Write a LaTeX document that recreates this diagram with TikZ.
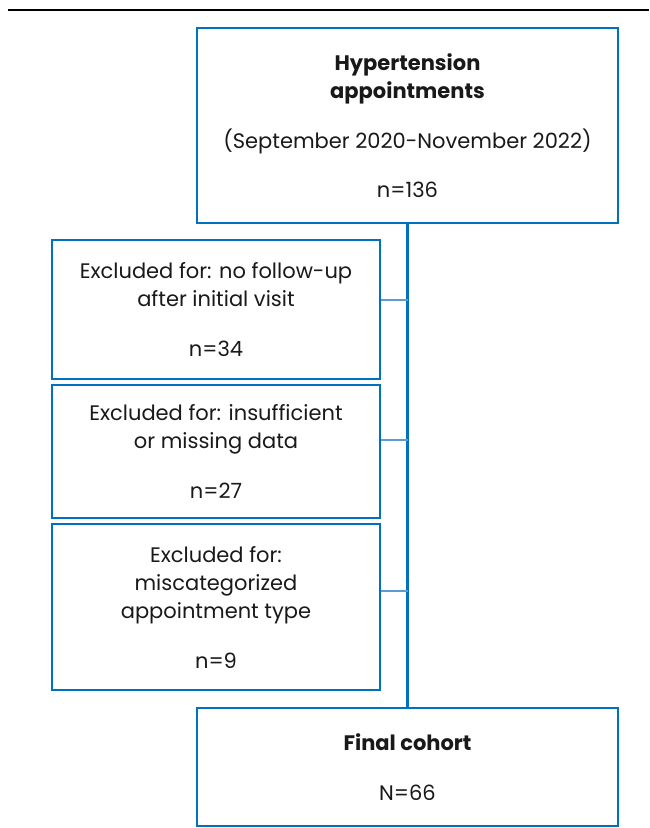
\documentclass[tikz,border=0pt]{standalone}
\usepackage{fontspec}
\setmainfont{Poppins}
\usetikzlibrary{positioning}
\definecolor{boxblue}{HTML}{0070C0}
\definecolor{linkblue}{HTML}{5B9BD5}
\tikzset{
	flowbox/.style={draw=boxblue,line width=1.6pt,rectangle,align=center,
		font=\fontsize{21}{28}\selectfont,text=black!90},
	link/.style={draw=linkblue,line width=2.4pt}}

\begin{document}
\begin{tikzpicture}[x=1pt,y=-1pt]
		\useasboundingbox (0,0) rectangle (649,828);
		\draw[black,line width=2pt] (8,10) -- (649,10);
		\node[flowbox,minimum width=421pt,minimum height=195pt](start) at (407.5,125.5)
			{\textbf{Hypertension}\\\textbf{appointments}\\[22pt](September 2020-November 2022)\\[21pt]n=136};
		\node[flowbox,minimum width=328pt,minimum height=139pt](excl1) at (216,309.5)
			{Excluded for: no follow-up\\after initial visit\\[22pt]n=34};
		\node[flowbox,minimum width=328pt,minimum height=133pt](excl2) at (216,451.5)
			{Excluded for: insufficient\\or missing data\\[22pt]n=27};
		\node[flowbox,minimum width=328pt,minimum height=166pt](excl3) at (216,607)
			{Excluded for:\\miscategorized\\appointment type\\[22pt]n=9};
		\node[flowbox,minimum width=421pt,minimum height=118pt](final) at (407.5,767)
			{\textbf{Final cohort}\\[22pt]N=66};
		\draw[draw=boxblue,line width=2.6pt] (start.south) -- (final.north);
		\coordinate (j1) at (407.5,300);
		\coordinate (j2) at (407.5,440);
		\coordinate (j3) at (407.5,591);
		\draw[link] (excl1.east |- j1) -- (j1);
		\draw[link] (excl2.east |- j2) -- (j2);
		\draw[link] (excl3.east |- j3) -- (j3);
	\end{tikzpicture}
\end{document}
